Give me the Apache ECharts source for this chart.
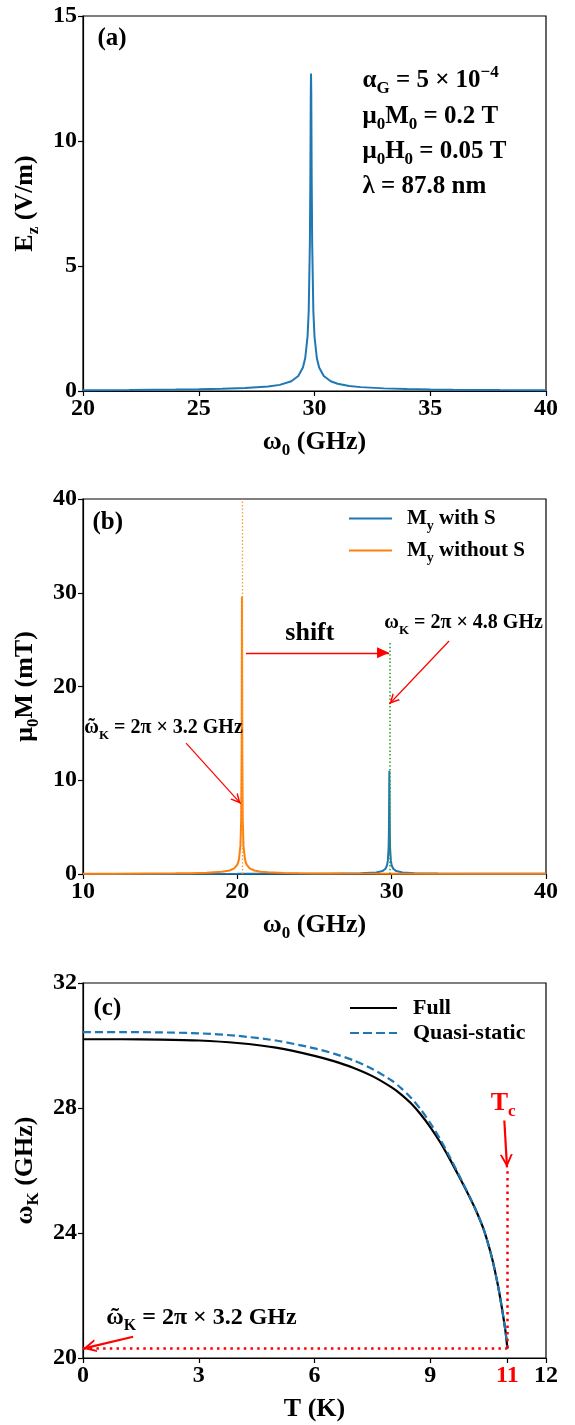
<!DOCTYPE html>
<html><head><meta charset="utf-8">
<script src="https://cdn.jsdelivr.net/npm/echarts@6/dist/echarts.min.js"></script>
<style>html,body{margin:0;padding:0;background:#fff}#c{width:575px;height:1425px}</style>
</head><body><div id="c"></div>
<script>
// ---------- panel (a): E_z vs omega_0 ----------
const aFreq = [20,22,24,25,26,27,28,28.5,29,29.3,29.5,29.6,29.7,29.75,29.8,29.82,29.84,29.85,29.86,29.88,29.9,29.95,30,30.1,30.2,30.4,30.7,31,31.5,32,33,34,35,36,38,40];
const aEz = [0.034,0.042,0.056,0.068,0.086,0.116,0.18,0.245,0.39,0.6,0.94,1.32,2.18,3.2,5.9,8.3,12.0,12.7,12.0,8.3,5.9,3.2,2.18,1.32,0.94,0.6,0.39,0.29,0.2,0.155,0.105,0.08,0.064,0.054,0.04,0.033];
const aXTicks = [20,25,30,35,40];
const aYTicks = [0,5,10,15];
// ---------- panel (b): mu0 M vs omega_0 ----------
const bFreqWith = [10,15,20,24,26,28,29,29.4,29.6,29.7,29.75,29.8,29.82,29.85,29.88,29.9,29.95,30,30.1,30.3,30.7,31.5,33,35,40];
const bMWith = [0.007,0.0094,0.014,0.024,0.036,0.076,0.165,0.31,0.56,0.93,1.4,2.7,4.3,11.0,4.3,2.7,1.4,0.93,0.56,0.31,0.165,0.085,0.044,0.027,0.014];
const bFreqWithout = [10,12,14,16,17,18,19,19.5,19.8,20,20.1,20.2,20.25,20.28,20.3,20.32,20.35,20.4,20.5,20.6,20.8,21.1,21.5,22,23,24,25,27,30,33,36,40];
const bMWithout = [0.029,0.036,0.048,0.07,0.09,0.13,0.23,0.375,0.6,1.0,1.5,3.0,5.8,13.2,29.6,13.2,5.8,3.0,1.5,1.0,0.6,0.375,0.25,0.18,0.11,0.08,0.064,0.045,0.031,0.023,0.019,0.015];
const bXTicks = [10,20,30,40];
const bYTicks = [0,10,20,30,40];
const bPeakWith = 29.85, bPeakWithout = 20.3;
// ---------- panel (c): omega_K vs T ----------
const cTemp  = [0,1,2,3,4,5,6,6.5,7,7.5,8,8.25,8.5,8.75,9,9.25,9.5,9.75,10,10.2,10.4,10.6,10.75,10.85,10.95,11];
const cFull  = [30.2,30.2,30.19,30.16,30.08,29.93,29.67,29.5,29.29,29.02,28.66,28.43,28.15,27.8,27.39,26.92,26.38,25.8,25.2,24.68,24.06,23.2,22.35,21.65,20.85,20.3];
const cQuasi = [30.43,30.43,30.42,30.39,30.31,30.16,29.91,29.74,29.53,29.25,28.88,28.63,28.33,27.96,27.52,27.02,26.45,25.84,25.22,24.69,24.06,23.2,22.35,21.65,20.85,20.3];
const cXTicks = [0,3,6,9,11,12];
const cYTicks = [20,24,28,32];
const cTc = 11, cOmegaTilde = 20.32;

const F = 'Liberation Serif';
function rich(size, color) {
  const c = color || '#000';
  const sub = Math.round(size * 0.66);
  const base = {fontFamily: F, fontWeight: 'bold', color: c};
  return {
    m: Object.assign({}, base, {fontSize: size, lineHeight: size + 8, verticalAlign: 'middle'}),
    s: Object.assign({}, base, {fontSize: sub, lineHeight: sub + 2, verticalAlign: 'bottom'}),
    p: Object.assign({}, base, {fontSize: sub, lineHeight: sub + 2, verticalAlign: 'top'})
  };
}
const zip = (xs, ys) => xs.map((x, i) => [x, ys[i]]);
const OPEN_ARROW = 'path://M0,10 L5,0 L10,10 L8.4,10 L5,3.2 L1.6,10 Z M5,-10 L5.01,-10 L5,-9.99 Z';
const FILLED_ARROW = 'path://M0,10 L5,0 L10,10 Z M5,-10 L5.01,-10 L5,-9.99 Z';
const SOLID_ICON = 'path://M0,0 L47,0 L47,2 L0,2 Z';
const DASH_ICON = 'path://M0,0 h9 v2 h-9 Z M13,0 h9 v2 h-9 Z M26,0 h9 v2 h-9 Z M39,0 h8 v2 h-8 Z';

function txt(coord, text, size, pos, color) {
  return {
    coord: coord, symbol: 'circle', symbolSize: 1,
    itemStyle: {color: 'rgba(0,0,0,0)'},
    label: {show: true, position: pos || 'inside', distance: 0, formatter: text, rich: rich(size, color)}
  };
}
function arrow(from, to, width, head, size) {
  return [
    {coord: from, symbol: 'none', lineStyle: {color: 'red', width: width, type: 'solid'}},
    {coord: to, symbol: head, symbolSize: size}
  ];
}
function dotted(from, to, color, width, dash) {
  return [
    {coord: from, symbol: 'none', lineStyle: {color: color, width: width, type: dash}},
    {coord: to, symbol: 'none'}
  ];
}

const tickLabel = {fontFamily: F, fontWeight: 'bold', fontSize: 24, color: '#000', margin: 6};
const axisLine = {show: true, onZero: false, lineStyle: {color: '#000', width: 1.2}};
const axisTick = {show: true, inside: false, length: 5, lineStyle: {color: '#000', width: 1.2}};

function xAx(g, min, max, interval, name, ticks, extra) {
  return Object.assign({
    type: 'value', gridIndex: g, min: min, max: max, interval: interval,
    axisLine: axisLine, axisTick: Object.assign({}, axisTick, {customValues: ticks}),
    splitLine: {show: false},
    axisLabel: Object.assign({}, tickLabel, {customValues: ticks}),
    name: name, nameLocation: 'middle', nameGap: 34,
    nameTextStyle: {rich: rich(26)}
  }, extra || {});
}
function yAx(g, min, max, interval, name, ticks) {
  return {
    type: 'value', gridIndex: g, min: min, max: max, interval: interval,
    axisLine: axisLine, axisTick: Object.assign({}, axisTick, {customValues: ticks}),
    splitLine: {show: false},
    axisLabel: Object.assign({}, tickLabel, {customValues: ticks}),
    name: name, nameLocation: 'middle', nameGap: 37, nameRotate: 90,
    nameTextStyle: {rich: rich(26)}
  };
}
const gridBase = {left: 83, width: 463, height: 375, show: true, borderColor: '#000', borderWidth: 1.2, containLabel: false};

const legendNames = {
  'My with S': '{m|M}{s|y}{m| with S}',
  'My without S': '{m|M}{s|y}{m| without S}',
  'Full': '{m|Full}',
  'Quasi-static': '{m|Quasi-static}'
};

const option = {
  animation: false,
  backgroundColor: '#fff',
  textStyle: {fontFamily: F},
  grid: [
    Object.assign({}, gridBase, {top: 16}),
    Object.assign({}, gridBase, {top: 499}),
    Object.assign({}, gridBase, {top: 983})
  ],
  xAxis: [
    xAx(0, 20, 40, 5, '{m|ω}{s|0}{m| (GHz)}', aXTicks),
    xAx(1, 10, 40, 10, '{m|ω}{s|0}{m| (GHz)}', bXTicks),
    xAx(2, 0, 12, 3, '{m|T (K)}', cXTicks, {
      axisLabel: Object.assign({}, tickLabel, {customValues: cXTicks, color: (v) => (Number(v) === 11 ? 'red' : '#000')})
    })
  ],
  yAxis: [
    yAx(0, 0, 15, 5, '{m|E}{s|z}{m| (V/m)}', aYTicks),
    yAx(1, 0, 40, 10, '{m|μ}{s|0}{m|M (mT)}', bYTicks),
    yAx(2, 20, 32, 4, '{m|ω}{s|K}{m| (GHz)}', cYTicks)
  ],
  legend: [
    {
      data: [{name: 'My with S', icon: SOLID_ICON}, {name: 'My without S', icon: SOLID_ICON}],
      orient: 'vertical', left: 349, top: 508,
      padding: 0, itemGap: 7, itemWidth: 43, itemHeight: 2.2, selectedMode: false,
      formatter: (n) => legendNames[n],
      textStyle: {rich: rich(21), padding: [0, 0, 0, 10]}
    },
    {
      data: [{name: 'Full', icon: SOLID_ICON}, {name: 'Quasi-static', icon: DASH_ICON}],
      orient: 'vertical', left: 350, top: 997,
      padding: 0, itemGap: 3, itemWidth: 47, itemHeight: 2.4, selectedMode: false,
      formatter: (n) => legendNames[n],
      textStyle: {rich: rich(22), padding: [0, 0, 0, 11]}
    }
  ],
  series: [
    {
      type: 'line', name: 'Ez', xAxisIndex: 0, yAxisIndex: 0, data: zip(aFreq, aEz),
      symbol: 'none', showSymbol: false, clip: false,
      lineStyle: {color: '#1f77b4', width: 2}, itemStyle: {color: '#1f77b4'},
      markPoint: {
        silent: true, animation: false,
        data: [
          txt([20.6, 14.08], '{m|(a)}', 25, 'right'),
          txt([32.05, 12.4], '{m|α}{s|G}{m| = 5 × 10}{p|−4}', 25, 'right'),
          txt([32.05, 10.98], '{m|μ}{s|0}{m|M}{s|0}{m| = 0.2 T}', 25, 'right'),
          txt([32.05, 9.56], '{m|μ}{s|0}{m|H}{s|0}{m| = 0.05 T}', 25, 'right'),
          txt([32.05, 8.16], '{m|λ = 87.8 nm}', 25, 'right')
        ]
      }
    },
    {
      type: 'line', name: 'My with S', xAxisIndex: 1, yAxisIndex: 1, data: zip(bFreqWith, bMWith),
      symbol: 'none', showSymbol: false, clip: false,
      lineStyle: {color: '#1f77b4', width: 2}, itemStyle: {color: '#1f77b4'}
    },
    {
      type: 'line', name: 'My without S', xAxisIndex: 1, yAxisIndex: 1, data: zip(bFreqWithout, bMWithout),
      symbol: 'none', showSymbol: false, clip: false,
      lineStyle: {color: '#ff7f0e', width: 2}, itemStyle: {color: '#ff7f0e'},
      markLine: {
        silent: true, animation: false, label: {show: false},
        data: [
          dotted([bPeakWithout, 0], [bPeakWithout, 40], '#ffa020', 1.3, [1.5, 2]),
          dotted([bPeakWith, 0], [bPeakWith, 24.75], '#2a9a2a', 1.5, [1.5, 2.2]),
          arrow([20.56, 23.6], [29.83, 23.6], 1.4, FILLED_ARROW, [11, 24]),
          arrow([33.72, 24.85], [29.85, 18.13], 1.2, OPEN_ARROW, [10, 20]),
          arrow([16.68, 13.97], [20.22, 7.5], 1.2, OPEN_ARROW, [10, 20])
        ]
      },
      markPoint: {
        silent: true, animation: false,
        data: [
          txt([10.58, 37.44], '{m|(b)}', 25, 'right'),
          txt([24.7, 25.7], '{m|shift}', 26, 'inside'),
          txt([34.66, 26.8], '{m|ω}{s|K}{m| = 2π × 4.8 GHz}', 20, 'inside'),
          txt([15.22, 15.57], '{m|ῶ}{s|K}{m| = 2π × 3.2 GHz}', 20, 'inside')
        ]
      }
    },
    {
      type: 'line', name: 'Full', xAxisIndex: 2, yAxisIndex: 2, data: zip(cTemp, cFull),
      symbol: 'none', showSymbol: false, clip: false, z: 3, smooth: 0.25,
      lineStyle: {color: '#000', width: 2.2}, itemStyle: {color: '#000'},
      markLine: {
        silent: true, animation: false, label: {show: false},
        data: [
          dotted([0, cOmegaTilde], [cTc, cOmegaTilde], 'red', 2.5, [2.5, 4.2]),
          dotted([cTc, cOmegaTilde], [cTc, 26.1], 'red', 2.5, [2.5, 4.2]),
          arrow([10.92, 27.6], [10.99, 26.1], 2.2, OPEN_ARROW, [13, 26]),
          arrow([1.3, 20.68], [0.0, 20.3], 2.2, OPEN_ARROW, [13, 26])
        ]
      },
      markPoint: {
        silent: true, animation: false,
        data: [
          txt([0.26, 31.17], '{m|(c)}', 25, 'right'),
          txt([10.89, 28.16], '{m|T}{s|c}', 26, 'inside', 'red'),
          txt([3.07, 21.28], '{m|ῶ}{s|K}{m| = 2π × 3.2 GHz}', 24, 'inside')
        ]
      }
    },
    {
      type: 'line', name: 'Quasi-static', xAxisIndex: 2, yAxisIndex: 2, data: zip(cTemp, cQuasi),
      symbol: 'none', showSymbol: false, clip: false, z: 4, smooth: 0.25,
      lineStyle: {color: '#1f77b4', width: 2.2, type: [8, 4]}, itemStyle: {color: '#1f77b4'}
    }
  ]
};
const chart = echarts.init(document.getElementById('c'), null, {renderer: 'canvas'});
chart.setOption(option);
</script>
</body></html>
